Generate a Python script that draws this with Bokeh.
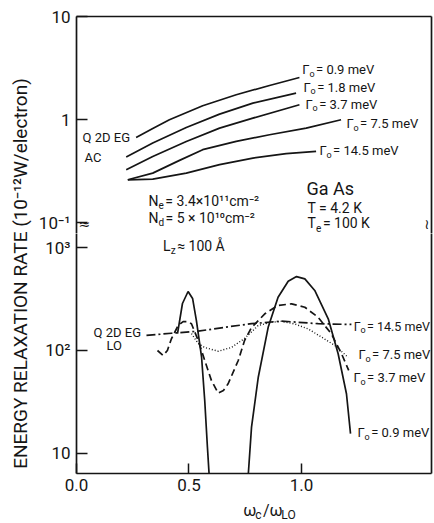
import math
from bokeh.plotting import figure
from bokeh.models import Range1d, FixedTicker, LinearAxis, LogAxis, Label
from bokeh.layouts import row, column
from bokeh.embed import file_html
from bokeh.resources import INLINE

# ---------------- data ----------------
# Acoustic-phonon (AC) energy relaxation rate, 10^-12 W/electron
ac_09_x = [0.265, 0.339, 0.413, 0.561, 0.710, 0.858, 0.991]
ac_09_y = [0.674, 0.824, 1.00, 1.366, 1.746, 2.148, 2.568]
ac_18_x = [0.221, 0.339, 0.488, 0.636, 0.784, 0.976]
ac_18_y = [0.435, 0.594, 0.842, 1.133, 1.448, 1.809]
ac_37_x = [0.221, 0.339, 0.488, 0.636, 0.784, 0.991]
ac_37_y = [0.328, 0.441, 0.616, 0.829, 1.036, 1.397]
ac_75_x = [0.228, 0.339, 0.458, 0.561, 0.710, 0.858, 1.021, 1.176]
ac_75_y = [0.262, 0.304, 0.404, 0.513, 0.617, 0.716, 0.829, 1.00]
ac_145_x = [0.228, 0.339, 0.488, 0.636, 0.784, 0.932, 1.065]
ac_145_y = [0.262, 0.266, 0.304, 0.367, 0.425, 0.469, 0.493]

# LO-phonon energy relaxation rate
lo_09a_x = [0.449, 0.471, 0.496, 0.516, 0.533, 0.556, 0.570, 0.582, 0.590]
lo_09a_y = [146, 286, 374, 320, 195, 86, 32.7, 11.5, 6.0]
lo_09b_x = [0.763, 0.778, 0.808, 0.852, 0.896, 0.941, 0.978, 1.015, 1.059,
            1.119, 1.163, 1.200, 1.218]
lo_09b_y = [6.0, 18.0, 55, 168, 329, 471, 522, 496, 383, 203, 92.9, 38, 15.6]
lo_37_x = [0.360, 0.385, 0.404, 0.422, 0.452, 0.474, 0.493, 0.511, 0.541,
           0.570, 0.600, 0.630, 0.653, 0.674, 0.719, 0.747, 0.778, 0.837,
           0.896, 0.956, 1.015, 1.074, 1.133, 1.178, 1.210]
lo_37_y = [100, 89.4, 100, 130, 175, 191, 191, 182, 125, 80, 51, 38.5, 40.9,
           47.5, 80, 125, 167, 227, 274, 284, 263, 210, 145, 93, 64]
lo_75_x = [0.511, 0.541, 0.569, 0.630, 0.689, 0.747, 0.808, 0.867, 0.911,
           0.970, 1.030, 1.089, 1.148, 1.208]
lo_75_y = [146, 117, 107, 98.4, 107, 131, 175, 188, 192, 181, 162, 135, 112,
           85.5]
lo_145_x = [0.311, 0.422, 0.541, 0.659, 0.778, 0.911, 0.985, 1.074, 1.222]
lo_145_y = [140, 147, 154, 168, 182, 193, 188, 182, 179]

x_ticks = [0.0, 0.5, 1.0]
x_tick_labels = ["0.0", "0.5", "1.0"]
ac_ticks = [0.1, 1, 10]
ac_tick_labels = ["10⁻¹", "1", "10"]
lo_ticks = [10, 100, 1000]
lo_tick_labels = ["10", "10²", "10³"]

# ---------------- styling helpers ----------------
INK = "#151515"
FONT = "Roboto"
LW = 1.7

WIDTHS = {" ": .25, ".": .26, "=": .55, "×": .53, "/": .41, "Γ": .54,
          "ω": .74, "N": .71, "T": .61, "L": .54, "O": .69, "≈": .55,
          "Å": .65, "m": .88, "c": .52, "e": .53, "V": .64, "d": .56,
          "z": .50, "o": .57, "K": .63, "¹": .36, "⁻": .36, "²": .36,
          "⁰": .36}


def text_w(s, fs):
    return sum(WIDTHS.get(ch, .56) for ch in s) * fs


def rich(fig, x, y, parts, size, y_offset=0, sub_drop=None):
    """Draw a run of text with subscripts ('s' parts) as adjacent labels."""
    drop = size * 0.32 if sub_drop is None else sub_drop
    off = 0.0
    for txt, kind in parts:
        fs = size if kind == "n" else round(size * 0.72)
        dy = y_offset if kind == "n" else y_offset - drop
        fig.add_layout(Label(x=x, y=y, x_offset=off, y_offset=dy, text=txt,
                             text_font=FONT, text_font_size=f"{fs}px",
                             text_color=INK, text_baseline="middle",
                             text_align="left"))
        off += text_w(txt, fs) + (1.5 if kind == "s" else 0)


def style_axis(ax, size=17):
    ax.axis_line_color = INK
    ax.axis_line_width = LW
    ax.major_tick_line_color = INK
    ax.major_tick_line_width = 1.5
    ax.major_tick_in = 11
    ax.major_tick_out = 0
    ax.minor_tick_line_color = None
    ax.major_label_text_font = FONT
    ax.major_label_text_font_size = f"{size}px"
    ax.major_label_text_color = INK
    ax.major_label_standoff = 6


def border_axis(ax):
    ax.ticker = FixedTicker(ticks=[])
    ax.axis_line_color = INK
    ax.axis_line_width = LW
    ax.major_tick_line_color = None
    ax.minor_tick_line_color = None
    ax.major_label_text_font_size = "0px"
    ax.major_label_standoff = 0
    ax.major_tick_in = 0
    ax.major_tick_out = 0


def clean(p):
    p.xgrid.visible = False
    p.ygrid.visible = False
    p.outline_line_color = None
    p.background_fill_color = "white"
    p.border_fill_color = "white"


xr = Range1d(0, 1.578)

# ---------------- upper panel: AC ----------------
top = figure(width=400, height=233, x_range=xr, y_range=Range1d(0.0791, 10),
             y_axis_type="log", x_axis_location=None, toolbar_location=None,
             output_backend="svg", min_border_left=42, min_border_right=3,
             min_border_top=16, min_border_bottom=0)
clean(top)
style_axis(top.yaxis[0])
top.yaxis[0].ticker = FixedTicker(ticks=ac_ticks)
top.yaxis[0].major_label_overrides = dict(zip(ac_ticks, ac_tick_labels))
ax_top = LinearAxis()
border_axis(ax_top)
top.add_layout(ax_top, "above")
ax_r1 = LogAxis()
border_axis(ax_r1)
top.add_layout(ax_r1, "right")

for xs, ys in [(ac_09_x, ac_09_y), (ac_18_x, ac_18_y), (ac_37_x, ac_37_y),
               (ac_75_x, ac_75_y), (ac_145_x, ac_145_y)]:
    top.line(xs, ys, line_color=INK, line_width=LW)

G = [("Γ", "n"), ("o", "s")]
rich(top, 1.004, 3.07, G + [(" = 0.9 meV", "n")], 13)
rich(top, 1.009, 2.06, G + [(" = 1.8 meV", "n")], 13)
rich(top, 1.018, 1.41, G + [(" = 3.7 meV", "n")], 13)
rich(top, 1.200, 0.92, G + [(" = 7.5 meV", "n")], 13)
rich(top, 1.080, 0.504, G + [(" = 14.5 meV", "n")], 13)
rich(top, 0.027, 0.673, [("Q 2D EG", "n")], 13)
rich(top, 0.036, 0.431, [("AC", "n")], 13)
rich(top, 1.022, 0.216, [("Ga As", "n")], 18)
rich(top, 1.027, 0.141, [("T = 4.2 K", "n")], 14)
rich(top, 1.027, 0.0989, [("T", "n"), ("e", "s"), (" = 100 K", "n")], 14)
rich(top, 0.32, 0.165, [("N", "n"), ("e", "s"), (" = 3.4×10¹¹cm⁻²", "n")], 14)
rich(top, 0.32, 0.1106, [("N", "n"), ("d", "s"), (" = 5 × 10¹⁰cm⁻²", "n")], 14)

# axis-break marks
top.add_layout(Label(x=0, y=0.0967, x_offset=2, text="≈",
                     text_font="DejaVu Sans", text_font_size="14px",
                     text_color=INK, text_align="left",
                     text_baseline="middle"))
top.add_layout(Label(x=1.578, y=0.0967, x_offset=-2, text="≀",
                     text_font="DejaVu Sans", text_font_size="14px",
                     text_color=INK, text_align="right",
                     text_baseline="middle"))

# ---------------- lower panel: LO ----------------
bot = figure(width=400, height=266, x_range=xr, y_range=Range1d(6.39, 1368),
             y_axis_type="log", toolbar_location=None, output_backend="svg",
             min_border_left=42, min_border_right=3, min_border_top=0,
             min_border_bottom=26)
clean(bot)
style_axis(bot.yaxis[0])
bot.yaxis[0].ticker = FixedTicker(ticks=lo_ticks)
bot.yaxis[0].major_label_overrides = dict(zip(lo_ticks, lo_tick_labels))
style_axis(bot.xaxis[0])
bot.xaxis[0].major_tick_in = 10
bot.xaxis[0].major_label_standoff = 5
bot.xaxis[0].ticker = FixedTicker(ticks=x_ticks)
bot.xaxis[0].major_label_overrides = dict(zip(x_ticks, x_tick_labels))
ax_r2 = LogAxis()
border_axis(ax_r2)
bot.add_layout(ax_r2, "right")

bot.line(lo_09a_x, lo_09a_y, line_color=INK, line_width=LW)
bot.line(lo_09b_x, lo_09b_y, line_color=INK, line_width=LW)
bot.line(lo_37_x, lo_37_y, line_color=INK, line_width=LW, line_dash="7 4")
bot.line(lo_75_x, lo_75_y, line_color=INK, line_width=1.4, line_dash="1 2")
bot.line(lo_145_x, lo_145_y, line_color=INK, line_width=LW,
         line_dash="9 3 2 3")

rich(bot, 1.232, 171, G + [(" = 14.5 meV", "n")], 12.5)
rich(bot, 1.253, 91.5, G + [(" = 7.5 meV", "n")], 13)
rich(bot, 1.231, 54.7, G + [(" = 3.7 meV", "n")], 13)
rich(bot, 1.249, 16.0, G + [(" = 0.9 meV", "n")], 13)
rich(bot, 0.076, 150, [("Q 2D EG", "n")], 13)
rich(bot, 0.133, 112, [("LO", "n")], 13)
rich(bot, 0.385, 1045, [("L", "n"), ("z", "s"), (" ≈ 100 Å", "n")], 14)

# ---------------- x-axis title strip: omega_c / omega_LO ----------------
xt = figure(width=400, height=24, x_range=Range1d(0, 400),
            y_range=Range1d(0, 24), toolbar_location=None,
            output_backend="svg", min_border=0, x_axis_location=None,
            y_axis_location=None)
clean(xt)
rich(xt, 188, 13, [("ω", "n"), ("c", "s"), ("/ω", "n"), ("LO", "s")], 16,
     sub_drop=4)

# ---------------- shared y-axis title ----------------
ttl = figure(width=34, height=523, x_range=Range1d(0, 34),
             y_range=Range1d(0, 523), toolbar_location=None,
             output_backend="svg", min_border=0, x_axis_location=None,
             y_axis_location=None)
clean(ttl)
ttl.add_layout(Label(x=20, y=250, angle=math.pi / 2,
                     text="ENERGY RELAXATION RATE (10⁻¹²W/electron)",
                     text_font=FONT, text_font_size="19px", text_color=INK,
                     text_align="center", text_baseline="middle"))

layout = row(ttl, column(top, bot, xt))
open("out.html", "w").write(file_html(layout, INLINE))
